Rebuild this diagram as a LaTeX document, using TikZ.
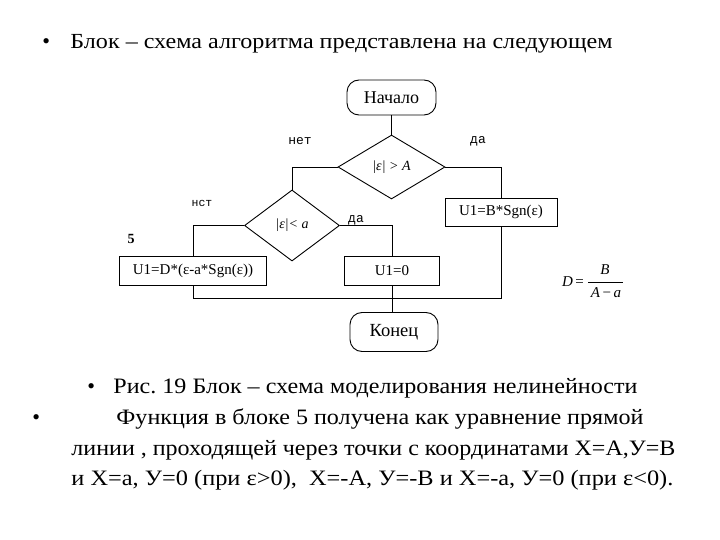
\documentclass[tikz,border=0pt]{standalone}
\usepackage{fontspec}
\usepackage{graphicx}
\setmainfont{Liberation Serif}
\newfontfamily\monofnt{Liberation Mono}
\usetikzlibrary{shapes.geometric}
\newcommand{\fitline}[2]{\resizebox{#1}{\height}{#2}}
\frenchspacing
\begin{document}
\begin{tikzpicture}[x=1pt,y=-1pt,
  term/.style={draw, rounded corners=12pt, minimum width=89pt, minimum height=35pt, inner sep=0pt, font=\fontsize{18}{20}\selectfont},
  proc/.style={draw, minimum height=29pt, inner sep=0pt, font=\fontsize{15}{17}\selectfont},
  decision/.style={draw, diamond, inner sep=0pt, font=\fontsize{14}{16}\selectfont\itshape},
  lbl/.style={font=\monofnt\fontsize{13}{15}\selectfont, inner sep=0pt},
  conn/.style={line width=0.9pt},
  txt/.style={anchor=base west, inner sep=0pt, font=\fontsize{22}{26}\selectfont},
  every path/.style={line width=0.9pt}]
\useasboundingbox[fill=white] (0,0) rectangle (720,540);

% title
\node[txt] (b0t) at (42,49) {•};
\node[txt, font=\fontsize{21.5}{25}\selectfont] (title) at (70,49) {\fitline{542pt}{Блок – схема алгоритма представлена на следующем}};

% flowchart
\node[term] (start) at (391.5,97.5) {Начало};
\node[decision, minimum width=107pt, minimum height=64pt] (d1) at (391.5,167) {|ε| > A};
\node[decision, minimum width=95pt, minimum height=71pt] (d2) at (292,225.5) {|ε|< a};
\node[proc, minimum width=112pt, minimum height=28pt] (b1) at (501,212) {U1=B*Sgn(ε)};
\node[proc, minimum width=147pt] (bd) at (193,270.5) {U1=D*(ε-a*Sgn(ε))};
\node[proc, minimum width=95pt] (bz) at (392,270.5) {U1=0};
\node[term, minimum width=88pt, minimum height=39pt, font=\fontsize{18.5}{20}\selectfont] (fin) at (394,332) {Конец};
\coordinate (j) at (501,298);

\draw[conn] (start.south) -- (d1.north);
\draw[conn] (d1.west) -| (d2.north);
\draw[conn] (d1.east) -| (b1.north);
\draw[conn] (d2.west) -| (bd.north);
\draw[conn] (d2.east) -| (bz.north);
\draw[conn] (bd.south) |- (j) -- (b1.south);
\draw[conn] (bz.south) -- (bz.south |- fin.north);

\node[lbl] (no1) at (300,141) {нет};
\node[lbl] (yes1) at (478,141) {да};
\node[lbl, font=\monofnt\fontsize{11.5}{13}\selectfont] (no2) at (202,203) {нст};
\node[lbl] (yes2) at (356,220) {да};
\node[font=\bfseries\fontsize{14}{16}\selectfont, inner sep=0pt] (five) at (131,239) {5};

% formula
\node[inner sep=0pt, font=\fontsize{15}{17}\selectfont] (fD) at (573,282) {\textit{D}\,=};
\node[inner sep=0pt, font=\fontsize{15}{17}\selectfont\itshape] (fB) at (605,270) {B};
\node[inner sep=0pt, font=\fontsize{15}{17}\selectfont] (fA) at (606,293) {\textit{A}\,−\,\textit{a}};
\coordinate (barL) at (588,282);
\coordinate (barR) at (623,282);
\draw[line width=0.7pt] (barL) -- (barR);

% lower text
\node[txt] (bl1) at (87,393) {•};
\node[txt] (l1) at (113,393) {\fitline{524pt}{Рис. 19 Блок – схема моделирования нелинейности}};
\node[txt] (bl2) at (32,424) {•};
\node[txt] (l2) at (116,424) {\fitline{527pt}{Функция в блоке 5 получена как уравнение прямой}};
\node[txt] (l3) at (71,455) {\fitline{604pt}{линии , проходящей через точки с координатами Х=А,У=В}};
\node[txt] (l4) at (71,485) {\fitline{602pt}{и Х=а, У=0 (при ε>0),~ Х=-А, У=-В и Х=-а, У=0 (при ε<0).}};
\end{tikzpicture}
\end{document}
